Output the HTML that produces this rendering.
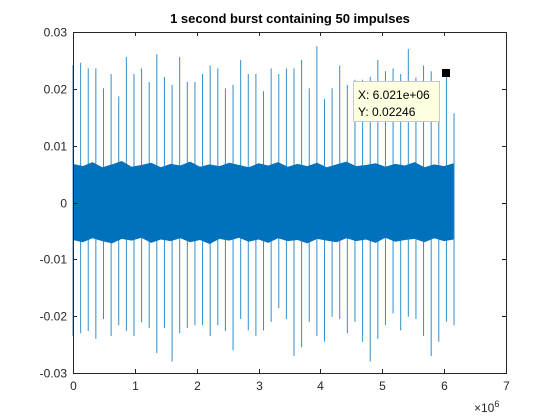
<!DOCTYPE html>
<html><head><meta charset="utf-8"><style>
body{margin:0;background:#fff;}
svg{display:block;font-family:"Liberation Sans",sans-serif;}
</style></head><body>
<svg id="chart" width="560" height="420" viewBox="0 0 560 420">
<rect width="560" height="420" fill="#fff"/>
<rect x="73" y="32" width="433" height="341" fill="#fff"/>
<g id="series"></g>
<g id="axes"></g>
<text x="290" y="23" text-anchor="middle" font-size="13" font-weight="bold" fill="#000">1 second burst containing 50 impulses</text>
<g>
<rect x="442" y="69" width="8" height="8" fill="#000"/>
<rect x="353.5" y="81.5" width="86" height="40" fill="#ffffe1" stroke="#c8c8c8"/>
<text x="358" y="99" font-size="12" fill="#000">X: 6.021e+06</text>
<text x="358" y="116" font-size="12" fill="#000">Y: 0.02246</text>
</g>
</svg>
<script>
const impulseSpacing = 0.1232e6;
const peakTop = [0.0242,0.0246,0.0236,0.0236,0.0201,0.0226,0.0187,0.0256,0.0226,0.0236,0.0212,0.0261,0.0221,0.0207,0.0256,0.0212,0.0212,0.0226,0.0241,0.0236,0.0201,0.0207,0.0251,0.0226,0.0226,0.0196,0.0236,0.0226,0.0236,0.0236,0.0251,0.0201,0.0275,0.0182,0.0201,0.0241,0.0207,0.0216,0.0216,0.0221,0.0251,0.0231,0.0236,0.0226,0.0270,0.0220,0.0241,0.0231,0.0210,0.02246,0.0157];
const peakBottom = [-0.0235,-0.0230,-0.0226,-0.0240,-0.0205,-0.0235,-0.0216,-0.0226,-0.0235,-0.0211,-0.0221,-0.0265,-0.0221,-0.0280,-0.0230,-0.0221,-0.0216,-0.0216,-0.0235,-0.0216,-0.0226,-0.0260,-0.0205,-0.0225,-0.0235,-0.0225,-0.0210,-0.0186,-0.0205,-0.0270,-0.0255,-0.0210,-0.0235,-0.0245,-0.0201,-0.0205,-0.0230,-0.0210,-0.0245,-0.0280,-0.0240,-0.0216,-0.0195,-0.0225,-0.0201,-0.0205,-0.0235,-0.0270,-0.0245,-0.0210,-0.0216];
const noiseEnd = 6.155e6;
const noiseUpper = [0.0068,0.0064,0.0071,0.0062,0.0067,0.0073,0.0063,0.0066,0.0070,0.0062,0.0068,0.0065,0.0072,0.0063,0.0067,0.0064,0.0070,0.0066,0.0062,0.0069,0.0065,0.0071,0.0063,0.0068,0.0064,0.0070,0.0062,0.0067,0.0072,0.0064,0.0066,0.0069,0.0063,0.0068,0.0065,0.0071,0.0062,0.0067,0.0064,0.0069];
const noiseLower = [-0.0066,-0.0070,-0.0063,-0.0068,-0.0072,-0.0064,-0.0067,-0.0062,-0.0071,-0.0065,-0.0068,-0.0063,-0.0070,-0.0066,-0.0073,-0.0064,-0.0067,-0.0062,-0.0069,-0.0065,-0.0071,-0.0063,-0.0068,-0.0066,-0.0072,-0.0064,-0.0067,-0.0070,-0.0063,-0.0068,-0.0065,-0.0071,-0.0062,-0.0069,-0.0066,-0.0064,-0.0070,-0.0063,-0.0068,-0.0065];
const xTicks = [0,1,2,3,4,5,6,7];
const yTicks = [-0.03,-0.02,-0.01,0,0.01,0.02,0.03];
const yTickLabels = ["-0.03","-0.02","-0.01","0","0.01","0.02","0.03"];

const L=73,R=506,T=32,B=373;
const xs = v => L + v/7e6*(R-L);
const ys = v => B - (v+0.03)/0.06*(B-T);
const NS="http://www.w3.org/2000/svg";
const series=document.getElementById('series');
const axes=document.getElementById('axes');
function mk(tag,attrs,parent){const e=document.createElementNS(NS,tag);for(const k in attrs)e.setAttribute(k,attrs[k]);parent.appendChild(e);return e;}

// noise band
let pts=[];
const n=noiseUpper.length;
for(let i=0;i<n;i++){pts.push(xs(noiseEnd*i/(n-1))+','+ys(noiseUpper[i]));}
for(let i=n-1;i>=0;i--){pts.push(xs(noiseEnd*i/(n-1))+','+ys(noiseLower[i]));}
const band=mk('polygon',{points:pts.join(' '),fill:'#0072BD'},series);



// impulses
for(let i=0;i<peakTop.length;i++){
  const x=xs(i*impulseSpacing);
  const ln=mk('line',{x1:x,x2:x,y1:ys(peakTop[i]),y2:ys(peakBottom[i]),stroke:'#0072BD','stroke-width':1,'stroke-opacity':0.8},series);
  
  
}

// box
const box=mk('rect',{x:L+0.5,y:T+0.5,width:R-L,height:B-T,fill:'none',stroke:'#262626','stroke-width':1},axes);



xTicks.forEach(v=>{
  const x=Math.round(xs(v*1e6))+0.5;
  mk('line',{x1:x,x2:x,y1:B,y2:B-4,stroke:'#262626'},axes);
  mk('line',{x1:x,x2:x,y1:T,y2:T+4,stroke:'#262626'},axes);
  const t=mk('text',{x:x,y:B+17,'text-anchor':'middle','font-size':12,fill:'#262626'},axes);
  t.textContent=String(v);
  
  
});
yTicks.forEach((v,i)=>{
  const y=Math.round(ys(v))+0.5;
  mk('line',{x1:L,x2:L+4,y1:y,y2:y,stroke:'#262626'},axes);
  mk('line',{x1:R,x2:R-4,y1:y,y2:y,stroke:'#262626'},axes);
  const t=mk('text',{x:L-6,y:y+4,'text-anchor':'end','font-size':12,fill:'#262626'},axes);
  t.textContent=yTickLabels[i];
  
  
});
const ex=mk('text',{x:474,y:412,'font-size':12,fill:'#262626'},axes);
ex.innerHTML='×10<tspan dy="-5" font-size="9">6</tspan>';


</script>
</body></html>
